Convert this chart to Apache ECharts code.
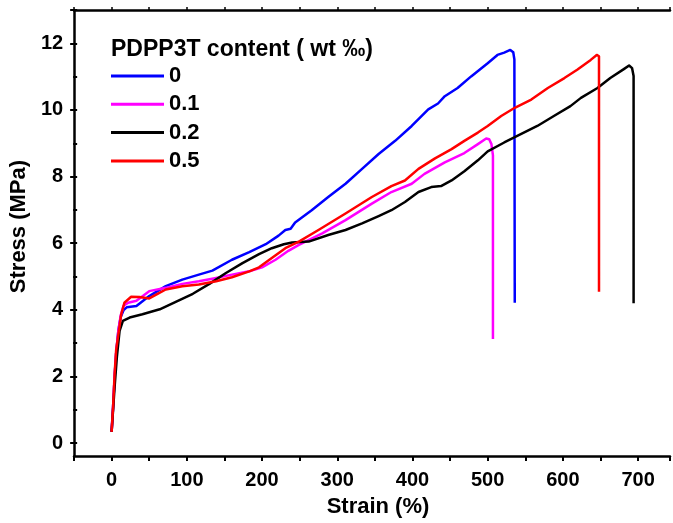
<!DOCTYPE html>
<html>
<head>
<meta charset="utf-8">
<script src="https://cdn.jsdelivr.net/npm/echarts@6/dist/echarts.min.js"></script>
<style>html,body{margin:0;padding:0;background:#fff;}#c{width:673px;height:523px;}</style>
</head>
<body>
<div id="c"></div>
<script>
var seriesNames = ['0', '0.1', '0.2', '0.5'];
var colors = ['#0000ff', '#ff00ff', '#000000', '#ff0000'];
var legendTitle = 'PDPP3T content ( wt \u2030)';

var strain0 = [0,2,4,6,9,12,16,20,33,50,72,94,116,134,160,183,205,222,231,238,244,266,288,311,333,355,377,399,421,434,443,460,478,500,513,522,530,534,535.5,536];
var stress0 = [0.23,1.0,1.9,2.6,3.3,3.7,3.92,4.0,4.04,4.34,4.64,4.84,4.99,5.11,5.44,5.67,5.91,6.17,6.34,6.38,6.57,6.94,7.34,7.74,8.19,8.64,9.04,9.49,9.99,10.17,10.39,10.64,10.99,11.39,11.64,11.71,11.79,11.72,11.5,4.14];

var strain1 = [0,2,4,6,9,12,16,22,33,50,72,94,116,139,160,183,200,218,235,249,280,311,346,372,399,416,443,469,487,498,502,505,507,507];
var stress1 = [0.23,1.0,1.9,2.6,3.3,3.75,4.05,4.14,4.2,4.49,4.59,4.71,4.79,4.89,4.99,5.09,5.21,5.44,5.71,5.89,6.24,6.64,7.14,7.49,7.74,8.04,8.39,8.67,8.94,9.11,9.09,8.94,8.6,3.04];

var strain2 = [0,2,4,7,10.6,15,24,41,64,86,108,130,152,174,196,213,229,240,262,288,311,333,355,372,390,408,425,438,452,469,487,500,522,544,566,588,610,624,646,663,681,688,692,694,694];
var stress2 = [0.23,0.9,1.59,2.49,3.29,3.59,3.69,3.79,3.94,4.17,4.41,4.71,5.04,5.34,5.61,5.79,5.91,5.96,5.99,6.19,6.34,6.54,6.76,6.94,7.19,7.49,7.64,7.67,7.84,8.12,8.45,8.72,8.99,9.24,9.49,9.79,10.09,10.34,10.64,10.94,11.21,11.32,11.24,11.0,4.12];

var strain3 = [0,2,4,6,8.4,12.8,17,26,37,50,63.5,72,94,116,139,160,183,196,213,231,249,275,311,346,372,390,408,430,452,469,487,500,518,536,558,580,602,619,637,645,648,648];
var stress3 = [0.23,1.0,1.99,2.7,3.09,3.79,4.14,4.32,4.31,4.27,4.44,4.54,4.64,4.69,4.79,4.91,5.09,5.21,5.49,5.79,5.99,6.34,6.84,7.34,7.67,7.84,8.19,8.51,8.79,9.04,9.29,9.49,9.79,10.04,10.29,10.64,10.94,11.19,11.49,11.64,11.6,4.47];

var xs = [strain0, strain1, strain2, strain3];
var ys = [stress0, stress1, stress2, stress3];

function zip(a, b) { return a.map(function (v, i) { return [v, b[i]]; }); }

var FONT = "'Liberation Sans', Arial, sans-serif";
var X_MIN = -50, X_MAX = 742.4;
var chart = echarts.init(document.getElementById('c'), null, {renderer: 'canvas'});

var series = seriesNames.map(function (n, i) {
  return {
    name: n, type: 'line', xAxisIndex: 0, yAxisIndex: 0,
    data: zip(xs[i], ys[i]), symbol: 'none', smooth: false,
    lineStyle: {color: colors[i], width: 2.5, join: 'round'},
    itemStyle: {color: colors[i]}
  };
});

chart.setOption({
  animation: false,
  backgroundColor: '#fff',
  title: {
    text: legendTitle, left: 106, top: 33,
    textStyle: {fontFamily: FONT, fontWeight: 'bold', fontSize: 23, color: '#000'}
  },
  legend: {
    orient: 'vertical', left: 106, top: 60,
    icon: 'rect',
    itemWidth: 53, itemHeight: 3, itemGap: 6.3,
    data: seriesNames,
    textStyle: {fontFamily: FONT, fontWeight: 'bold', fontSize: 22, color: '#000', lineHeight: 22}
  },
  grid: [
    {left: 74, right: 0, top: 10, bottom: 63.3, containLabel: false},
    {left: 74, right: 0, top: 10, bottom: 79.9, containLabel: false}
  ],
  xAxis: [
    {
      type: 'value', gridIndex: 0, position: 'bottom', min: X_MIN, max: X_MAX, interval: 50,
      name: 'Strain (%)', nameLocation: 'middle', nameGap: 40,
      nameTextStyle: {fontFamily: FONT, fontWeight: 'bold', fontSize: 22, color: '#000', padding: [0, 0, 0, 12]},
      axisLine: {show: true, onZero: false, lineStyle: {color: '#000', width: 2.5}},
      axisTick: {show: true, inside: false, length: 5, lineStyle: {color: '#000', width: 2}},
      axisLabel: {
        margin: 14, fontFamily: FONT, fontWeight: 'bold', fontSize: 20, color: '#000',
        formatter: function (v) { return (v >= 0 && Math.abs(v % 100) < 1e-6) ? String(v) : ''; }
      },
      splitLine: {show: false}
    },
    {
      type: 'value', gridIndex: 0, position: 'top', min: X_MIN, max: X_MAX, interval: 50,
      axisLine: {show: true, onZero: false, lineStyle: {color: '#000', width: 2.5}},
      axisTick: {show: true, inside: false, length: 3, lineStyle: {color: '#000', width: 1.5}},
      axisLabel: {show: false}, splitLine: {show: false}
    },
    {
      type: 'value', gridIndex: 1, min: X_MIN, max: X_MAX, show: false,
      axisLine: {onZero: false}
    }
  ],
  yAxis: [
    {
      type: 'value', gridIndex: 0, position: 'left', min: -0.5, max: 13,
      axisLine: {show: true, onZero: false, lineStyle: {color: '#000', width: 2.5}},
      axisTick: {show: false}, axisLabel: {show: false}, splitLine: {show: false}
    },
    {
      type: 'value', gridIndex: 1, position: 'left', min: 0, max: 13, interval: 2,
      name: 'Stress (MPa)', nameLocation: 'middle', nameGap: 40,
      nameTextStyle: {fontFamily: FONT, fontWeight: 'bold', fontSize: 22, color: '#000'},
      axisLine: {show: false, onZero: false},
      axisTick: {show: true, inside: false, length: 7, lineStyle: {color: '#000', width: 2}},
      minorTick: {show: true, splitNumber: 2, length: 4, lineStyle: {color: '#000', width: 2}},
      axisLabel: {
        margin: 14, fontFamily: FONT, fontWeight: 'bold', fontSize: 20, color: '#000',
        formatter: function (v) { return (Math.abs(v % 2) < 1e-6) ? String(v) : ''; }
      },
      splitLine: {show: false}
    }
  ],
  series: series
});
</script>
</body>
</html>
